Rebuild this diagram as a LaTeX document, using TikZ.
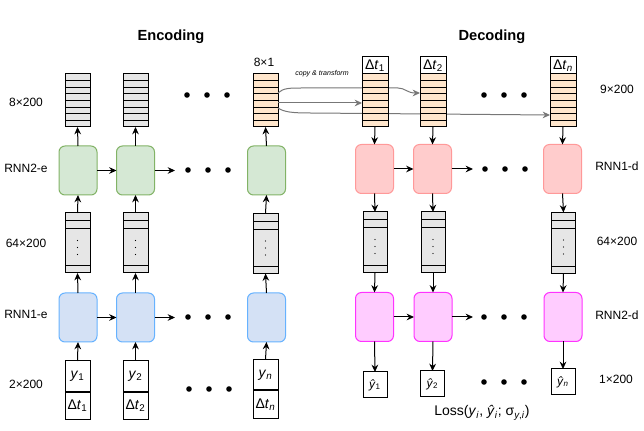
\documentclass[tikz,border=0pt]{standalone}
\usepackage{fontspec}
\setmainfont{Liberation Sans}
\usetikzlibrary{arrows.meta,calc}
\definecolor{stackgray}{HTML}{E6E6E6}
\definecolor{stackorange}{HTML}{FFE6CC}
\definecolor{gfill}{HTML}{D5E8D4}
\definecolor{gline}{HTML}{82B366}
\definecolor{bfill}{HTML}{D4E1F5}
\definecolor{bline}{HTML}{66B2FF}
\definecolor{rfill}{HTML}{FFCCCC}
\definecolor{rline}{HTML}{FF9999}
\definecolor{mfill}{HTML}{FFCCFF}
\definecolor{mline}{HTML}{FF33FF}
\definecolor{curvegray}{HTML}{777777}
\newcommand\eightrows[1]{%
  \foreach \k in {1,...,7}{%
    \draw[thinline] ($(#1.north west)!{\k/8}!(#1.south west)$) -- ($(#1.north east)!{\k/8}!(#1.south east)$);}}
\newcommand\midrows[1]{%
  \draw[thinline] ($(#1.north west)+(0,8)$) -- ($(#1.north east)+(0,8)$);
  \draw[thinline] ($(#1.north west)+(0,16)$) -- ($(#1.north east)+(0,16)$);
  \draw[thinline] ($(#1.south west)+(0,-7)$) -- ($(#1.south east)+(0,-7)$);
  \fill ($(#1.north)+(0,27.5)$) circle[radius=0.55pt];
  \fill ($(#1.north)+(0,34.5)$) circle[radius=0.55pt];
  \fill ($(#1.north)+(0,41.5)$) circle[radius=0.55pt];}
\newcommand\bigdots[2]{%
  \foreach \dx in {0,20,40}{\fill ($(#1,#2)+(\dx,0)$) circle[radius=2.1pt];}}
\begin{document}
\begin{tikzpicture}[x=0.75pt,y=-0.75pt,
  every node/.style={inner sep=0pt,outer sep=0pt},
  thinline/.style={line width=0.75pt},
  lbl/.style={font=\fontsize{9}{10}\selectfont},
  ttl/.style={font=\fontsize{11}{13}\selectfont\bfseries},
  cell/.style={draw=black,line width=0.75pt,font=\fontsize{10.5}{12}\selectfont},
  topstack/.style={cell,fill=stackgray,minimum width=18.75pt,minimum height=39.75pt},
  srcstack/.style={cell,fill=stackorange,minimum width=18.75pt,minimum height=39.75pt},
  decstack/.style={cell,fill=stackorange,minimum width=19.5pt,minimum height=39.75pt},
  dechead/.style={cell,fill=white,minimum width=19.5pt,minimum height=12.75pt},
  midstack/.style={cell,fill=stackgray,minimum width=18.75pt,minimum height=45pt},
  decmid/.style={cell,fill=stackgray,minimum width=18pt,minimum height=45.75pt},
  rnn/.style={line width=0.75pt,rounded corners=4.5pt,minimum width=28.5pt,minimum height=36.75pt},
  rgreen/.style={rnn,draw=gline,fill=gfill},
  rblue/.style={rnn,draw=bline,fill=bfill},
  rred/.style={rnn,draw=rline,fill=rfill},
  rmag/.style={rnn,draw=mline,fill=mfill},
  incell/.style={cell,fill=white,minimum width=18.75pt},
  outcell/.style={draw=black,line width=0.75pt,fill=white,minimum width=18pt,minimum height=19.5pt,font=\fontsize{9}{10}\selectfont},
  arr/.style={line width=0.75pt,-{Stealth[length=5.5pt,width=5pt,inset=1.8pt]}},
  carr/.style={line width=0.75pt,draw=curvegray,-{Stealth[length=5.5pt,width=5pt,inset=1.8pt,fill=curvegray]}}
]
\useasboundingbox (0,0) rectangle (644,431);

% titles and labels
\node[ttl] (tenc) at (171,37) {Encoding};
\node[ttl] (tdec) at (492,37) {Decoding};
\node[lbl] (l8x1) at (264,62) {8×1};
\node[lbl] (le1) at (26,102) {8×200};
\node[lbl] (le2) at (26,168) {RNN2-e};
\node[lbl] (le3) at (26,243) {64×200};
\node[lbl] (le4) at (26,314) {RNN1-e};
\node[lbl] (le5) at (26,384) {2×200};
\node[lbl] (ld1) at (617,89) {9×200};
\node[lbl] (ld2) at (617,166) {RNN1-d};
\node[lbl] (ld3) at (617,241) {64×200};
\node[lbl] (ld4) at (617,315) {RNN2-d};
\node[lbl] (ld5) at (616,379) {1×200};
\node[font=\fontsize{5.3}{6}\selectfont\itshape] (lcopy) at (322,74) {copy \& transform};
\node[font=\fontsize{10.5}{12}\selectfont] (lloss) at (482,413)
  {Loss(\textit{y}\textsubscript{\textit{i}}, \textit{ŷ}\textsubscript{\textit{i}}; σ\textsubscript{\textit{y},\textit{i}})};

% ---------- Encoding ----------
\node[topstack] (et1) at (77.5,100.5) {};
\node[topstack] (et2) at (135.5,100.5) {};
\node[srcstack] (etn) at (265.5,100.5) {};

% copy & transform curves (behind decoding stacks)
\coordinate (c1s) at (etn.east |- 0,93);
\coordinate (c2s) at (etn.east |- 0,103);
\coordinate (c3s) at (etn.east |- 0,108);
\node[dechead] (dh1) at (375,65.5) {Δ\textit{t}\textsubscript{1}};
\node[dechead] (dh2) at (433,65.5) {Δ\textit{t}\textsubscript{2}};
\node[dechead] (dhn) at (563,65.5) {Δ\textit{t}\textsubscript{\textit{n}}};
\coordinate (c1e) at (420,93);
\coordinate (c2e) at (362,103);
\coordinate (c3e) at (550,115);
\draw[carr] (c1s) .. controls (283,88) and (290,88) .. (302,88) -- (398,88) .. controls (405,88) and (407,93) .. (c1e);
\draw[carr] (c2s) -- (c2e);
\draw[carr] (c3s) .. controls (284,112) and (292,113) .. (310,113) -- (c3e);

\node[decstack] (dt1) at (375,100.5) {};
\node[decstack] (dt2) at (433,100.5) {};
\node[decstack] (dtn) at (563,100.5) {};
\foreach \n in {et1,et2,etn,dt1,dt2,dtn}{\eightrows{\n}}

\node[rgreen] (eb1) at (78,170.5) {};
\node[rgreen] (eb2) at (135.5,170.5) {};
\node[rgreen] (ebn) at (266.5,170.5) {};

\node[midstack] (eg1) at (77.5,243) {};
\node[midstack] (eg2) at (135.5,243) {};
\node[midstack] (egn) at (265.5,243.5) {};
\foreach \n in {eg1,eg2,egn}{\midrows{\n}}

\node[rblue] (ea1) at (78,317.5) {};
\node[rblue] (ea2) at (135.5,317.5) {};
\node[rblue] (ean) at (266.5,317.5) {};

\node[incell,minimum height=23.25pt] (ey1) at (77.5,376.5) {\textit{y}\textsubscript{1}};
\node[incell,minimum height=21pt] (ed1) at (77.5,406) {Δ\textit{t}\textsubscript{1}};
\node[incell,minimum height=23.25pt] (ey2) at (135.5,376.5) {\textit{y}\textsubscript{2}};
\node[incell,minimum height=21pt] (ed2) at (135.5,406) {Δ\textit{t}\textsubscript{2}};
\node[incell,minimum height=23.25pt] (eyn) at (265.5,375) {\textit{y}\textsubscript{\textit{n}}};
\node[incell,minimum height=21pt] (edn) at (265.5,405) {Δ\textit{t}\textsubscript{\textit{n}}};
\foreach \n in {ey1,ey2,eyn}{\draw[line width=1.5pt] (\n.south west) -- (\n.south east);}

% encoding arrows
\foreach \c in {1,2,n}{
  \draw[arr] (ey\c.north) -- (ea\c.south);
  \draw[arr] (ea\c.north) -- (eg\c.south);
  \draw[arr] (eg\c.north) -- (eb\c.south);
  \draw[arr] (eb\c.north) -- (et\c.south);
}
\coordinate (ebend) at (175,170.5);
\coordinate (eaend) at (175,317.5);
\draw[arr] (eb1.east) -- (eb2.west);
\draw[arr] (eb2.east) -- (ebend);
\draw[arr] (ea1.east) -- (ea2.west);
\draw[arr] (ea2.east) -- (eaend);

\bigdots{187}{95}
\bigdots{188}{170}
\bigdots{188}{317}
\bigdots{189}{389}

% ---------- Decoding ----------
\node[rred] (da1) at (374.5,169) {};
\node[rred] (da2) at (432.5,169) {};
\node[rred] (dan) at (562.5,169) {};

\node[decmid] (dg1) at (375,242.5) {};
\node[decmid] (dg2) at (433,242.5) {};
\node[decmid] (dgn) at (563.5,243) {};
\foreach \n in {dg1,dg2,dgn}{\midrows{\n}}

\node[rmag] (db1) at (374.5,317) {};
\node[rmag] (db2) at (433,317) {};
\node[rmag] (dbn) at (563,317) {};

\node[outcell] (do1) at (375,385) {\textit{ŷ}\textsubscript{1}};
\node[outcell] (do2) at (432.5,384) {\textit{ŷ}\textsubscript{2}};
\node[outcell] (don) at (563,382) {\textit{ŷ}\textsubscript{\textit{n}}};

\foreach \c in {1,2,n}{
  \draw[arr] (dt\c.south) -- (da\c.north);
  \draw[arr] (da\c.south) -- (dg\c.north);
  \draw[arr] (dg\c.south) -- (db\c.north);
  \draw[arr] (db\c.south) -- (do\c.north);
}
\coordinate (daend) at (473,169);
\coordinate (dbend) at (473,317);
\draw[arr] (da1.east) -- (da2.west);
\draw[arr] (da2.east) -- (daend);
\draw[arr] (db1.east) -- (db2.west);
\draw[arr] (db2.east) -- (dbend);

\bigdots{484}{95}
\bigdots{485}{169}
\bigdots{484}{317}
\bigdots{484}{382}
\end{tikzpicture}
\end{document}
